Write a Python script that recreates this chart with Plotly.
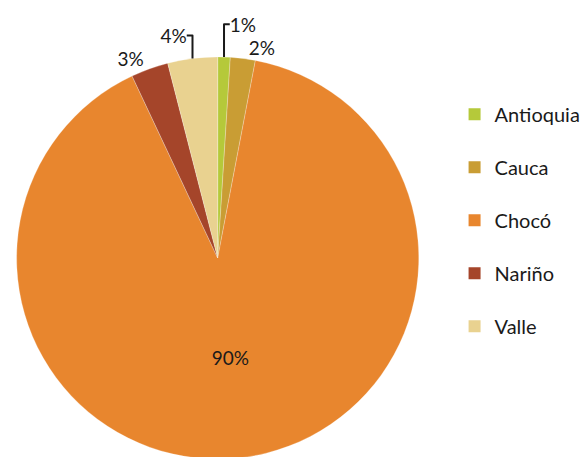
import plotly.graph_objects as go

regions = ["Antioquia", "Cauca", "Chocó", "Nariño", "Valle"]
shares = [1, 2, 90, 3, 4]
colors = ["#b5c93a", "#c99d34", "#e8862e", "#a5452a", "#e9d290"]
text_pos = ["outside", "outside", "inside", "outside", "outside"]

fig = go.Figure()
fig.add_trace(go.Pie(
    labels=regions, values=shares, sort=False, direction="clockwise", rotation=0,
    marker=dict(colors=colors, line=dict(color="rgba(255,255,255,0.5)", width=0.5)),
    textinfo="percent", texttemplate="%{percent:.0%}", textposition=text_pos,
    textfont=dict(family="Lato", size=19, color="#1a1a1a"),
    insidetextorientation="horizontal",
    showlegend=False,
    domain=dict(x=[0.001, 0.699], y=[0.013, 0.893]),
))
for i, (r, c) in enumerate(zip(regions, colors)):
    fig.add_trace(go.Scatter(
        x=[None], y=[None], mode="markers", name=r, legendgroup=r,
        marker=dict(symbol="square", size=14, color=c),
    ))

fig.update_layout(
    width=588, height=457,
    margin=dict(l=0, r=0, t=0, b=0),
    paper_bgcolor="white", plot_bgcolor="white",
    xaxis=dict(visible=False), yaxis=dict(visible=False),
    legend=dict(x=0.757, y=0.81, xanchor="left", yanchor="top",
                font=dict(family="Lato", size=20, color="#1a1a1a"),
                tracegroupgap=24, itemsizing="constant"),
    font=dict(family="Lato"),
)
fig.write_html("out.html")
